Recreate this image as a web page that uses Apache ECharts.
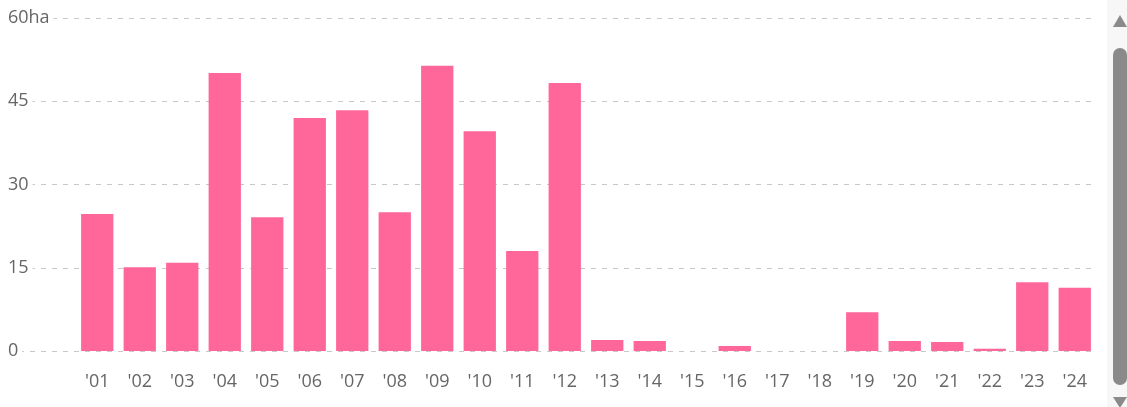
<!DOCTYPE html>
<html>
<head>
<meta charset="utf-8">
<script src="https://cdn.jsdelivr.net/npm/echarts@6/dist/echarts.min.js"></script>
<style>
  html, body { margin: 0; padding: 0; background: #fff; }
  #chart { width: 1127px; height: 407px; }
</style>
</head>
<body>
<div id="chart"></div>
<script>
// 数据
var years = ["'01", "'02", "'03", "'04", "'05", "'06", "'07", "'08", "'09", "'10", "'11", "'12",
             "'13", "'14", "'15", "'16", "'17", "'18", "'19", "'20", "'21", "'22", "'23", "'24"];
var areaHa = [24.7, 15.1, 15.9, 50.1, 24.1, 42.0, 43.4, 25.0, 51.4, 39.6, 18.0, 48.3,
              2.0, 1.8, 0, 0.9, 0, 0, 7.0, 1.8, 1.6, 0.4, 12.4, 11.4];
var yTicks = [0, 15, 30, 45, 60];

var myChart = echarts.init(document.getElementById('chart'));

var labelFont = { color: '#666', fontSize: 18, fontFamily: 'Open Sans' };

var option = {
    backgroundColor: '#fff',
    animation: false,
    grid: [
        { left: 8, right: 31, top: 18, bottom: 56 },   // 网格线
        { left: 76, right: 31, top: 18, bottom: 56 }   // 柱子
    ],
    xAxis: [
        { gridIndex: 0, type: 'category', data: years, show: false },
        {
            gridIndex: 1, type: 'category', data: years,
            axisLine: { show: false },
            axisTick: { show: false },
            axisLabel: Object.assign({ margin: 22 }, labelFont)
        }
    ],
    yAxis: [
        {
            gridIndex: 0, type: 'value',
            min: yTicks[0], max: yTicks[yTicks.length - 1], interval: 15,
            axisLine: { show: false },
            axisTick: { show: false },
            splitLine: { lineStyle: { type: [5, 6], color: '#c8c8c8', width: 1 } },
            axisLabel: Object.assign({
                inside: true,
                margin: 0,
                backgroundColor: '#fff',
                padding: [0, 4, 0, 0],
                formatter: function (v) { return v === 60 ? v + 'ha' : String(v); }
            }, labelFont)
        },
        {
            gridIndex: 1, type: 'value',
            min: yTicks[0], max: yTicks[yTicks.length - 1], interval: 15,
            show: false
        }
    ],
    series: [
        {
            type: 'bar',
            xAxisIndex: 1, yAxisIndex: 1,
            data: areaHa,
            barCategoryGap: '24%',
            itemStyle: { color: '#ff6699' }
        }
    ],
    // 右侧滚动条
    graphic: [
        { type: 'rect', shape: { x: 1107, y: 0, width: 20, height: 407 }, style: { fill: '#f7f7f7' }, z: 10 },
        { type: 'rect', shape: { x: 1113, y: 48, width: 14, height: 337, r: 7 }, style: { fill: '#8a8a8a' }, z: 11 },
        { type: 'polygon', shape: { points: [[1113, 27], [1127, 27], [1120, 15]] }, style: { fill: '#8a8a8a' }, z: 11 },
        { type: 'polygon', shape: { points: [[1113, 397], [1127, 397], [1120, 408]] }, style: { fill: '#8a8a8a' }, z: 11 }
    ]
};

myChart.setOption(option);
</script>
</body>
</html>
